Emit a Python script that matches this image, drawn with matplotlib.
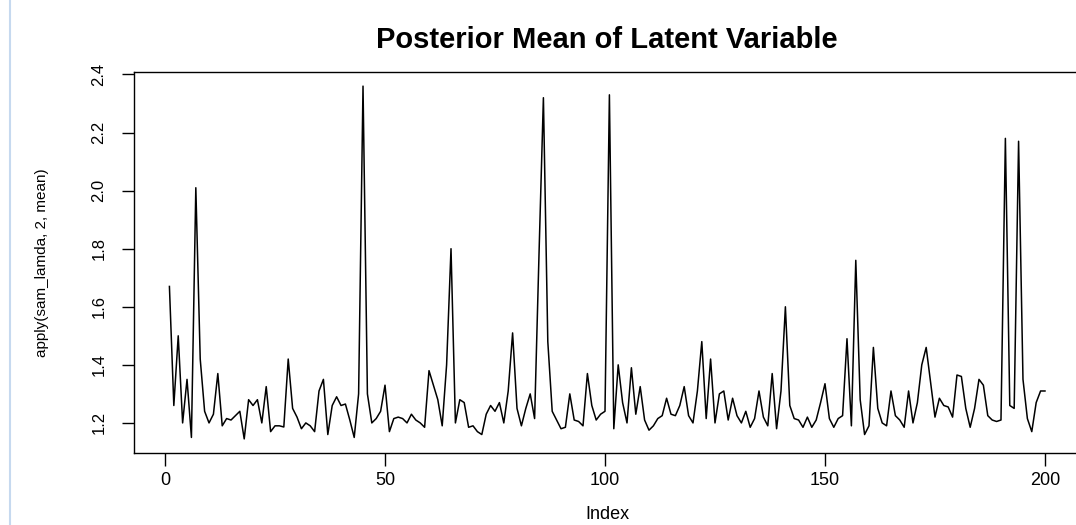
import numpy as np
import matplotlib.pyplot as plt
from matplotlib.lines import Line2D

plt.rcParams['font.family'] = ['Liberation Sans', 'DejaVu Sans']

# posterior mean of the latent variable, one value per index
lam_mean = [
    1.67, 1.26, 1.50, 1.20, 1.35, 1.15, 2.01, 1.42, 1.24, 1.20,
    1.23, 1.37, 1.19, 1.215, 1.21, 1.225, 1.24, 1.145, 1.28, 1.26,
    1.28, 1.20, 1.325, 1.17, 1.19, 1.19, 1.186, 1.42, 1.25, 1.22,
    1.18, 1.20, 1.19, 1.17, 1.31, 1.35, 1.16, 1.26, 1.29, 1.26,
    1.265, 1.21, 1.15, 1.30, 2.36, 1.30, 1.20, 1.215, 1.24, 1.33,
    1.17, 1.215, 1.22, 1.215, 1.20, 1.23, 1.21, 1.20, 1.185, 1.38,
    1.33, 1.28, 1.19, 1.40, 1.80, 1.20, 1.28, 1.27, 1.185, 1.19,
    1.17, 1.16, 1.23, 1.26, 1.24, 1.27, 1.20, 1.31, 1.51, 1.25,
    1.19, 1.25, 1.30, 1.215, 1.78, 2.32, 1.48, 1.24, 1.21, 1.18,
    1.185, 1.30, 1.21, 1.205, 1.19, 1.37, 1.26, 1.21, 1.23, 1.24,
    2.33, 1.18, 1.40, 1.27, 1.20, 1.39, 1.23, 1.325, 1.21, 1.175,
    1.19, 1.215, 1.225, 1.285, 1.23, 1.225, 1.26, 1.325, 1.225, 1.20,
    1.31, 1.48, 1.215, 1.42, 1.20, 1.30, 1.31, 1.21, 1.285, 1.225,
    1.20, 1.24, 1.185, 1.215, 1.31, 1.22, 1.19, 1.37, 1.18, 1.31,
    1.60, 1.26, 1.215, 1.21, 1.185, 1.22, 1.185, 1.21, 1.27, 1.335,
    1.215, 1.185, 1.215, 1.225, 1.49, 1.19, 1.76, 1.28, 1.16, 1.19,
    1.46, 1.25, 1.20, 1.19, 1.31, 1.225, 1.21, 1.185, 1.31, 1.20,
    1.27, 1.40, 1.46, 1.34, 1.22, 1.285, 1.26, 1.255, 1.22, 1.365,
    1.36, 1.25, 1.185, 1.25, 1.35, 1.33, 1.225, 1.21, 1.205, 1.21,
    2.18, 1.26, 1.25, 2.17, 1.35, 1.215, 1.17, 1.27, 1.31, 1.31,
]
index = np.arange(1, len(lam_mean) + 1)
xticks = [0, 50, 100, 150, 200]
yticks = [1.2, 1.4, 1.6, 1.8, 2.0, 2.2, 2.4]

W, H = 1076, 525
fig = plt.figure(figsize=(W / 100, H / 100), dpi=100)
# plot region in pixels: left 134, right 1080 (cut off by the screenshot), top 72, bottom 453
ax = fig.add_axes([134.4 / W, 1 - 453 / H, (1080 - 134.4) / W, (453 - 72) / H])

ax.plot(index, lam_mean, color='black', lw=1.1)

# R-style 4% padding
xr = index.max() - index.min()
ax.set_xlim(index.min() - 0.04 * xr, index.max() + 0.04 * xr)
yr = max(lam_mean) - min(lam_mean)
ax.set_ylim(min(lam_mean) - 0.04 * yr, max(lam_mean) + 0.04 * yr)

ax.set_xticks(xticks)
ax.set_yticks(yticks)
ax.set_xticklabels([str(t) for t in xticks], fontsize=13)
ax.set_yticklabels(['%.1f' % t for t in yticks], fontsize=12, rotation=90, va='center')
ax.tick_params(axis='both', direction='out', length=9, width=1, color='black')
ax.tick_params(axis='x', pad=5)
ax.tick_params(axis='y', pad=11)
for s in ax.spines.values():
    s.set_linewidth(1)
    s.set_color('black')

ax.set_xlabel('Index', fontsize=13)
ax.xaxis.set_label_coords(0.5, -0.138)
ax.set_ylabel('apply(sam_lamda, 2, mean)', fontsize=11)
ax.yaxis.set_label_coords(-0.09, 0.5)

ax.text(0.5, 1.085, 'Posterior Mean of Latent Variable', transform=ax.transAxes,
        ha='center', va='center', fontsize=21, fontweight='bold')

# thin light-blue line on the left of the screenshot
fig.add_artist(Line2D([10 / W, 10 / W], [0, 1], transform=fig.transFigure,
                      color='#c6d9ef', lw=1.5))

fig.savefig('out.png', dpi=100)
